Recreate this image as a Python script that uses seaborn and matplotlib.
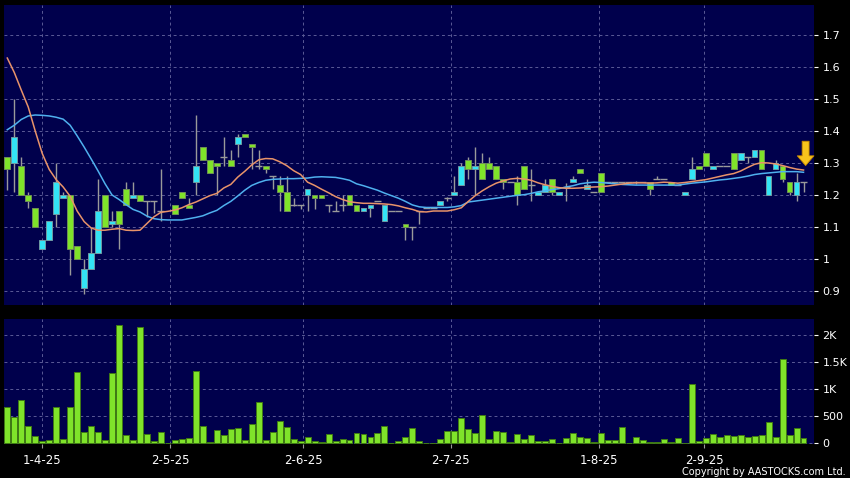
import numpy as np
import matplotlib
matplotlib.use("Agg")
import matplotlib.pyplot as plt
import seaborn as sns

# daily candles, one per trading day (index 0 .. 114), NaN = no trade
opens = [1.32, 1.30, 1.29, 1.20, 1.16, 1.03, 1.06, 1.14, 1.19, 1.20,
         1.04, 0.91, 0.97, 1.02, 1.20, 1.11, 1.15, 1.22, 1.19, 1.20,
         1.18, 1.18, 1.15, np.nan, 1.17, 1.21, 1.17, 1.24, 1.35, 1.31,
         1.30, 1.32, 1.31, 1.36, 1.39, 1.36, 1.29, 1.29, 1.26, 1.23,
         1.21, 1.17, 1.17, 1.20, 1.20, 1.20, 1.17, 1.15, 1.17, 1.20,
         1.17, 1.15, 1.16, 1.18, 1.12, 1.15, 1.15, 1.11, 1.10, 1.15,
         1.16, 1.16, 1.17, 1.19, 1.20, 1.23, 1.31, 1.28, 1.30, 1.30,
         1.29, 1.25, 1.24, 1.24, 1.29, 1.23, 1.20, 1.21, 1.25, 1.20,
         1.225, 1.24, 1.28, 1.22, 1.21, 1.27, 1.24, 1.24, 1.24, 1.24,
         1.24, 1.24, 1.24, 1.25, 1.25, 1.24, 1.23, 1.20, 1.25, 1.29,
         1.33, 1.28, 1.29, 1.29, 1.33, 1.31, 1.32, 1.32, 1.34, 1.20,
         1.28, 1.29, 1.24, 1.20, 1.24]
highs = [1.32, 1.50, 1.32, 1.21, 1.16, 1.06, 1.12, 1.30, 1.21, 1.20,
         1.04, 1.00, 1.10, 1.25, 1.20, 1.15, 1.15, 1.24, 1.24, 1.20,
         1.18, 1.18, 1.28, np.nan, 1.17, 1.21, 1.19, 1.45, 1.35, 1.31,
         1.30, 1.38, 1.34, 1.39, 1.39, 1.36, 1.34, 1.29, 1.26, 1.26,
         1.26, 1.19, 1.17, 1.22, 1.20, 1.20, 1.17, 1.18, 1.20, 1.20,
         1.17, 1.16, 1.17, 1.18, 1.17, 1.15, 1.15, 1.11, 1.10, 1.15,
         1.16, 1.16, 1.18, 1.195, 1.26, 1.30, 1.32, 1.35, 1.33, 1.32,
         1.29, 1.25, 1.24, 1.26, 1.29, 1.28, 1.21, 1.25, 1.25, 1.21,
         1.237, 1.26, 1.28, 1.25, 1.21, 1.27, 1.24, 1.24, 1.24, 1.24,
         1.245, 1.24, 1.24, 1.26, 1.25, 1.24, 1.23, 1.21, 1.32, 1.29,
         1.33, 1.29, 1.29, 1.29, 1.33, 1.33, 1.32, 1.34, 1.34, 1.26,
         1.31, 1.29, 1.24, 1.27, 1.24]
lows = [1.215, 1.21, 1.20, 1.16, 1.10, 1.03, 1.06, 1.10, 1.19, 0.95,
        1.00, 0.89, 0.97, 1.02, 1.10, 1.10, 1.03, 1.17, 1.19, 1.18,
        1.13, 1.145, 1.12, np.nan, 1.14, 1.19, 1.16, 1.20, 1.31, 1.27,
        1.20, 1.29, 1.29, 1.32, 1.38, 1.28, 1.28, 1.27, 1.22, 1.15,
        1.15, 1.165, 1.157, 1.15, 1.157, 1.19, 1.148, 1.15, 1.15, 1.17,
        1.15, 1.15, 1.13, 1.18, 1.12, 1.15, 1.15, 1.06, 1.06, 1.11,
        1.16, 1.16, 1.17, 1.18, 1.20, 1.23, 1.25, 1.20, 1.25, 1.28,
        1.25, 1.22, 1.24, 1.17, 1.22, 1.18, 1.20, 1.21, 1.20, 1.20,
        1.18, 1.24, 1.27, 1.22, 1.21, 1.21, 1.24, 1.24, 1.24, 1.24,
        1.235, 1.24, 1.20, 1.25, 1.25, 1.23, 1.23, 1.20, 1.25, 1.28,
        1.29, 1.28, 1.29, 1.29, 1.28, 1.31, 1.30, 1.32, 1.28, 1.20,
        1.28, 1.24, 1.20, 1.18, 1.21]
closes = [1.28, 1.38, 1.20, 1.18, 1.10, 1.06, 1.12, 1.24, 1.20, 1.03,
          1.00, 0.97, 1.02, 1.15, 1.10, 1.12, 1.11, 1.17, 1.20, 1.18,
          1.18, 1.18, 1.15, np.nan, 1.14, 1.19, 1.16, 1.29, 1.31, 1.27,
          1.29, 1.32, 1.29, 1.38, 1.38, 1.35, 1.29, 1.28, 1.26, 1.21,
          1.15, 1.17, 1.17, 1.22, 1.19, 1.19, 1.17, 1.15, 1.17, 1.17,
          1.15, 1.16, 1.17, 1.18, 1.17, 1.15, 1.15, 1.10, 1.10, 1.15,
          1.16, 1.16, 1.18, 1.19, 1.21, 1.29, 1.28, 1.29, 1.25, 1.28,
          1.25, 1.24, 1.24, 1.20, 1.22, 1.23, 1.21, 1.23, 1.21, 1.21,
          1.225, 1.25, 1.27, 1.23, 1.21, 1.21, 1.24, 1.24, 1.24, 1.24,
          1.24, 1.24, 1.22, 1.25, 1.25, 1.23, 1.23, 1.21, 1.28, 1.28,
          1.29, 1.29, 1.29, 1.29, 1.28, 1.33, 1.32, 1.34, 1.28, 1.26,
          1.30, 1.25, 1.21, 1.24, 1.24]
volumes = [666, 494, 796, 315, 136, 43, 62, 666, 80, 666,
           1314, 204, 327, 210, 62, 1302, 2190, 148, 68, 2153,
           167, 49, 204, 0, 55, 80, 92, 1333, 315, 25,
           247, 154, 259, 284, 68, 364, 771, 68, 216, 407,
           302, 80, 43, 123, 43, 25, 167, 37, 74, 62,
           185, 179, 117, 185, 321, 6, 37, 123, 278, 43,
           12, 12, 80, 222, 222, 469, 265, 185, 531, 86,
           222, 210, 31, 167, 80, 160, 43, 37, 80, 12,
           105, 185, 123, 95, 31, 188, 56, 62, 300, 12,
           125, 56, 19, 25, 75, 19, 94, 3, 1090, 37,
           106, 181, 125, 156, 144, 156, 125, 144, 156, 388,
           112, 1563, 150, 275, 106]

# moving averages
ma_short = [1.628, 1.583, 1.528, 1.475, 1.400, 1.330, 1.280, 1.248, 1.225, 1.196,
            1.150, 1.117, 1.097, 1.090, 1.090, 1.093, 1.095, 1.090, 1.089, 1.090,
            1.111, 1.132, 1.146, 1.149, 1.153, 1.160, 1.170, 1.178, 1.188, 1.198,
            1.205, 1.222, 1.233, 1.256, 1.274, 1.294, 1.310, 1.314, 1.313, 1.304,
            1.292, 1.276, 1.264, 1.240, 1.230, 1.218, 1.207, 1.195, 1.186, 1.179,
            1.176, 1.174, 1.174, 1.173, 1.172, 1.170, 1.166, 1.160, 1.155, 1.148,
            1.147, 1.150, 1.150, 1.150, 1.154, 1.160, 1.180, 1.198, 1.213, 1.226,
            1.237, 1.244, 1.250, 1.252, 1.250, 1.246, 1.238, 1.232, 1.227, 1.223,
            1.221, 1.221, 1.222, 1.224, 1.225, 1.226, 1.228, 1.231, 1.234, 1.237,
            1.238, 1.238, 1.237, 1.238, 1.240, 1.239, 1.237, 1.239, 1.242, 1.245,
            1.248, 1.253, 1.258, 1.263, 1.267, 1.275, 1.286, 1.296, 1.301, 1.300,
            1.297, 1.292, 1.286, 1.281, 1.278]
ma_long = [1.404, 1.418, 1.436, 1.447, 1.450, 1.449, 1.447, 1.443, 1.437, 1.418,
           1.385, 1.350, 1.313, 1.275, 1.235, 1.200, 1.186, 1.170, 1.155, 1.147,
           1.134, 1.126, 1.123, 1.122, 1.122, 1.122, 1.126, 1.130, 1.135, 1.144,
           1.152, 1.167, 1.180, 1.197, 1.215, 1.230, 1.239, 1.246, 1.249, 1.250,
           1.251, 1.251, 1.252, 1.253, 1.256, 1.257, 1.256, 1.255, 1.251, 1.246,
           1.235, 1.229, 1.222, 1.215, 1.206, 1.198, 1.190, 1.180, 1.169, 1.163,
           1.161, 1.161, 1.161, 1.161, 1.163, 1.167, 1.178, 1.181, 1.184, 1.187,
           1.190, 1.193, 1.196, 1.199, 1.201, 1.205, 1.210, 1.213, 1.217, 1.220,
           1.225, 1.229, 1.235, 1.238, 1.240, 1.239, 1.237, 1.235, 1.233, 1.232,
           1.231, 1.231, 1.231, 1.231, 1.231, 1.231, 1.231, 1.234, 1.237, 1.239,
           1.241, 1.244, 1.247, 1.249, 1.252, 1.255, 1.259, 1.264, 1.267, 1.269,
           1.271, 1.273, 1.273, 1.273, 1.271]

date_labels = ["1-4-25", "2-5-25", "2-6-25", "2-7-25", "1-8-25", "2-9-25"]
date_pos = [5.0, 23.3, 42.4, 63.5, 84.7, 99.8]
price_ticks = [0.9, 1, 1.1, 1.2, 1.3, 1.4, 1.5, 1.6, 1.7]
vol_ticks = [0, 500, 1000, 1500, 2000]
vol_tick_labels = ["0", "500", "1K", "1.5K", "2K"]

BG = "#00004c"
GRID = "#5a5a96"
UP = "#33e4f5"
DOWN = "#7fe32a"
WICK = "#9a9a9a"

idx = np.arange(len(closes))
o = np.array(opens); h = np.array(highs); l = np.array(lows); c = np.array(closes)

fig = plt.figure(figsize=(8.5, 4.78), dpi=100, facecolor="black")
ax = fig.add_axes([4 / 850, 1 - 305 / 478, 810 / 850, 300 / 478])
axv = fig.add_axes([4 / 850, 1 - 444 / 478, 810 / 850, 125 / 478])

for a in (ax, axv):
    a.set_facecolor(BG)
    for s in a.spines.values():
        s.set_visible(False)
    a.set_xlim(-0.47, 115.5)
    a.set_xticks(date_pos)
    a.grid(True, color=GRID, linestyle=(0, (3, 3)), linewidth=0.7)
    a.set_axisbelow(True)
    a.yaxis.tick_right()
    a.tick_params(axis="y", colors="white", labelsize=8, length=3, pad=3)

# price panel
ax.set_ylim(0.85625, 1.79375)
ax.set_yticks(price_ticks)
ax.set_yticklabels([f"{t:g}" for t in price_ticks])
ax.tick_params(axis="x", length=0, labelbottom=False)

ok = ~np.isnan(c)
ax.vlines(idx[ok], l[ok], h[ok], color=WICK, linewidth=1, zorder=2)
up = ok & (c > o)
dn = ok & (c < o)
flat = ok & (c == o)
ax.bar(idx[up], c[up] - o[up], bottom=o[up], width=0.82, color=UP,
       edgecolor="#6f9aa3", linewidth=0.7, zorder=3)
ax.bar(idx[dn], o[dn] - c[dn], bottom=c[dn], width=0.82, color=DOWN,
       edgecolor="#6f8f55", linewidth=0.7, zorder=3)
ax.hlines(c[flat], idx[flat] - 0.5, idx[flat] + 0.5, color=WICK, linewidth=1, zorder=3)

sns.lineplot(x=idx, y=ma_long, ax=ax, color="#4fb0ee", linewidth=1.1, zorder=4)
sns.lineplot(x=idx, y=ma_short, ax=ax, color="#e8936a", linewidth=1.1, zorder=5)
ax.set_xlabel("")
ax.set_ylabel("")

# marker arrow at the last price
ax.annotate("", xy=(idx[-1] + 0.3, 1.292), xytext=(idx[-1] + 0.3, 1.368),
            arrowprops=dict(width=5, headwidth=12, headlength=7,
                            facecolor="#f8c41c", edgecolor="#c98a00", linewidth=0.6),
            zorder=6)

# volume panel
sns.barplot(x=idx, y=volumes, ax=axv, native_scale=True, color=DOWN,
            edgecolor="#3f7a14", linewidth=0.7, width=0.85, errorbar=None,
            saturation=1)
axv.set_xlim(-0.47, 115.5)
axv.set_ylim(-13, 2302)
axv.set_yticks(vol_ticks)
axv.set_yticklabels(vol_tick_labels)
axv.set_xticks(date_pos)
axv.set_xticklabels(date_labels)
axv.tick_params(axis="x", colors="#9a9a9a", labelcolor="white", labelsize=8.5,
                length=3, pad=4)
axv.set_xlabel("")
axv.set_ylabel("")

fig.text(846 / 850, 3 / 478, "Copyright by AASTOCKS.com Ltd.", color="white",
         fontsize=7, ha="right", va="baseline")

fig.savefig("out.png", dpi=100, facecolor="black")
